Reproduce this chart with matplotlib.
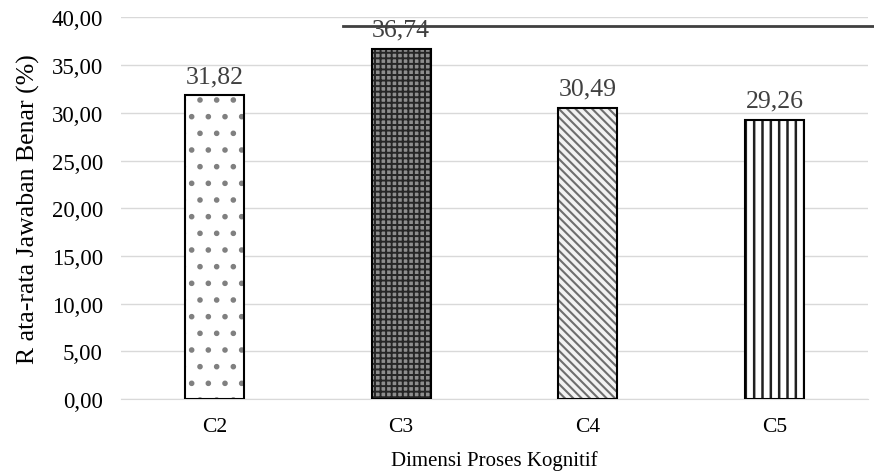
import matplotlib
matplotlib.use("Agg")
import matplotlib.pyplot as plt

categories = ["C2", "C3", "C4", "C5"]
values = [31.82, 36.74, 30.49, 29.26]
labels = ["31,82", "36,74", "30,49", "29,26"]
yticks = [0, 5, 10, 15, 20, 25, 30, 35, 40]
ytick_labels = ["0,00", "5,00", "10,00", "15,00", "20,00", "25,00", "30,00", "35,00", "40,00"]

plt.rcParams['font.family'] = ['Liberation Serif', 'DejaVu Serif']
plt.rcParams['hatch.linewidth'] = 1.6

fig = plt.figure(figsize=(8.74, 4.77), dpi=100)
ax = fig.add_axes([0.1384, 0.1614, 0.8546, 0.80])

x = list(range(len(categories)))
w = 0.316
styles = [
    dict(face="white", hatch=".", hcol="#808080", hlw=1.6),
    dict(face="#8e8e8e", hatch="+++", hcol="#262626", hlw=1.4),
    dict(face="#f2f2f2", hatch="\\\\\\\\", hcol="#6e6e6e", hlw=1.5),
    dict(face="white", hatch="||", hcol="#202020", hlw=1.8),
]
for xi, v, st in zip(x, values, styles):
    b = ax.bar(xi, v, width=w, color=st["face"], edgecolor=st["hcol"], hatch=st["hatch"], linewidth=0, zorder=2)
    for p in b:
        if hasattr(p, "set_hatch_linewidth"):
            p.set_hatch_linewidth(st["hlw"])
    ax.bar(xi, v, width=w, fill=False, edgecolor="black", linewidth=1.5, zorder=3)

for xi, v, lab in zip(x, values, labels):
    ax.annotate(lab, (xi, v), xytext=(0, 6), textcoords="offset points",
                ha="center", va="bottom", fontsize=18.5, color="#404040", zorder=4)

# dark horizontal line near top
ax.plot([0.687, 3.53], [39.1, 39.1], color="#404040", lw=2, clip_on=False, zorder=1)

ax.set_xlim(-0.5, 3.5)
ax.set_ylim(0, 40)
ax.set_yticks(yticks)
ax.set_yticklabels(ytick_labels)
ax.set_xticks(x)
ax.set_xticklabels(categories)
ax.tick_params(axis="both", length=0, colors="black")
ax.tick_params(axis="y", pad=13, labelsize=16.5)
ax.tick_params(axis="x", pad=13, labelsize=15.5)
ax.yaxis.grid(True, color="#d9d9d9", lw=1, zorder=0)
ax.set_axisbelow(True)
for s in ["top", "right", "left"]:
    ax.spines[s].set_visible(False)
ax.spines["bottom"].set_color("#d9d9d9")

ax.set_xlabel("Dimensi Proses Kognitif", fontsize=15, labelpad=10)
ax.set_ylabel("R ata-rata Jawaban Benar (%)", fontsize=18.5, labelpad=8)

fig.savefig("out.png", dpi=100)
